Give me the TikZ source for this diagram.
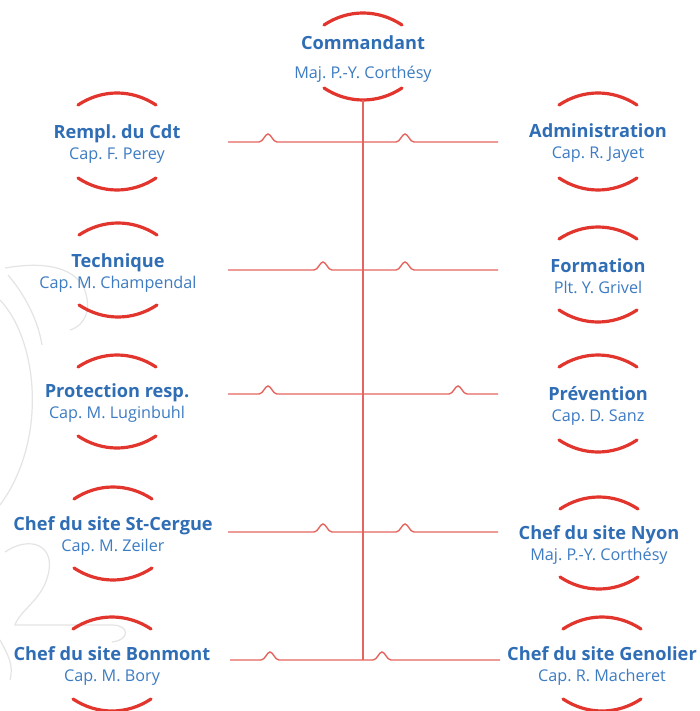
\documentclass[tikz,border=0pt]{standalone}
\usepackage{fontspec}
\setmainfont{Open Sans}
\usetikzlibrary{calc}
\definecolor{tblue}{HTML}{2F6DB5}
\definecolor{nblue}{HTML}{3D7CC2}
\definecolor{ared}{HTML}{E2352D}
\definecolor{lred}{HTML}{E5655E}
\definecolor{wmgray}{HTML}{E4E4E4}
\tikzset{
  unit/.style={align=center, inner sep=0pt, font=\fontsize{16.2}{21.5}\selectfont\frenchspacing, text=nblue},
  arcst/.style={draw=ared, line width=3.2pt, line cap=round},
  conn/.style={draw=lred, line width=1.4pt},
  wm/.style={draw=wmgray, line width=1.2pt}
}
\newcommand\ttl[1]{{\fontsize{18.2}{21.5}\selectfont\bfseries\color{tblue}#1}}
% #1 node, #2 top-arc offset, #3 bottom-arc offset (arcs sit 2pt above the node centre)
\newcommand\unitarcs[3]{%
  \draw[arcst] ($(#1)+(-39,-#2+10)$) .. controls ($(#1)+(-15,-#2-6)$) and ($(#1)+(15,-#2-6)$) .. ($(#1)+(39,-#2+10)$);
  \draw[arcst] ($(#1)+(-39,#3-14)$) .. controls ($(#1)+(-15,#3+2)$) and ($(#1)+(15,#3+2)$) .. ($(#1)+(39,#3-14)$);
}
% #1 start, #2 end, #3 y, #4 first hump x, #5 second hump x
\newcommand\humpline[5]{%
  \draw[conn] (#1)
    -- (#4-9,#3) .. controls (#4-5,#3) and (#4-3,#3-8) .. (#4,#3-8) .. controls (#4+3,#3-8) and (#4+5,#3) .. (#4+9,#3)
    -- (#5-9,#3) .. controls (#5-5,#3) and (#5-3,#3-8) .. (#5,#3-8) .. controls (#5+3,#3-8) and (#5+5,#3) .. (#5+9,#3)
    -- (#2);
}
\begin{document}
\begin{tikzpicture}[x=1pt,y=-1pt]
\useasboundingbox[fill=white] (0,0) rectangle (699,711);
% watermark
\draw[wm] (0,300) .. controls (38,340) and (48,440) .. (0,505);
\draw[wm] (5,268) .. controls (40,262) and (72,265) .. (84,288) .. controls (92,308) and (86,325) .. (70,330);
\draw[wm] (8,275) .. controls (25,295) and (38,320) .. (42,345);
\draw[wm] (5,552) .. controls (30,535) and (56,545) .. (48,575) .. controls (42,600) and (20,610) .. (15,625) -- (112,625) .. controls (130,625) and (130,640) .. (112,642);
\draw[wm] (0,640) .. controls (8,655) and (14,665) .. (10,680);
% units
\node[unit] (cmd) at (363,59) {\ttl{Commandant}\\[8pt]Maj. P.-Y. Corthésy};
\node[unit] (rempl) at (117,144) {\ttl{Rempl. du Cdt}\\Cap. F. Perey};
\node[unit] (admin) at (598,143) {\ttl{Administration}\\Cap. R. Jayet};
\node[unit] (tech) at (118,273) {\ttl{Technique}\\Cap. M. Champendal};
\node[unit] (form) at (598,276) {\ttl{Formation}\\Plt. Y. Grivel};
\node[unit] (prot) at (117,403) {\ttl{Protection resp.}\\Cap. M. Luginbuhl};
\node[unit] (prev) at (598,406) {\ttl{Prévention}\\Cap. D. Sanz};
\node[unit] (stc) at (113,536) {\ttl{Chef du site St-Cergue}\\Cap. M. Zeiler};
\node[unit] (nyon) at (599,545) {\ttl{Chef du site Nyon}\\Maj. P.-Y. Corthésy};
\node[unit] (bon) at (112,666) {\ttl{Chef du site Bonmont}\\Cap. M. Bory};
\node[unit] (gen) at (602,666) {\ttl{Chef du site Genolier}\\Cap. R. Macheret};
% arcs
\unitarcs{cmd}{44}{43}
\unitarcs{rempl}{49}{48}
\unitarcs{admin}{48}{49}
\unitarcs{tech}{48}{46}
\unitarcs{form}{47}{48}
\unitarcs{prot}{46}{47}
\unitarcs{prev}{49}{48}
\unitarcs{stc}{47}{46}
\unitarcs{nyon}{46}{46}
\unitarcs{bon}{47}{47}
\unitarcs{gen}{47}{47}
% connector ends
\coordinate (cmdb) at (363,100);
\coordinate (vend) at (363,660);
\coordinate (l1) at (228,142); \coordinate (r1) at (498,142);
\coordinate (l2) at (228,270); \coordinate (r2) at (498,270);
\coordinate (l3) at (228,394); \coordinate (r3) at (498,394);
\coordinate (l4) at (228,532); \coordinate (r4) at (498,532);
\coordinate (l5) at (230,660); \coordinate (r5) at (500,660);
% connectors
\draw[conn] (cmdb) -- (vend);
\humpline{l1}{r1}{142}{268}{405}
\humpline{l2}{r2}{270}{323}{405}
\humpline{l3}{r3}{394}{268}{458}
\humpline{l4}{r4}{532}{323}{405}
\humpline{l5}{r5}{660}{270}{382}
\end{tikzpicture}
\end{document}
